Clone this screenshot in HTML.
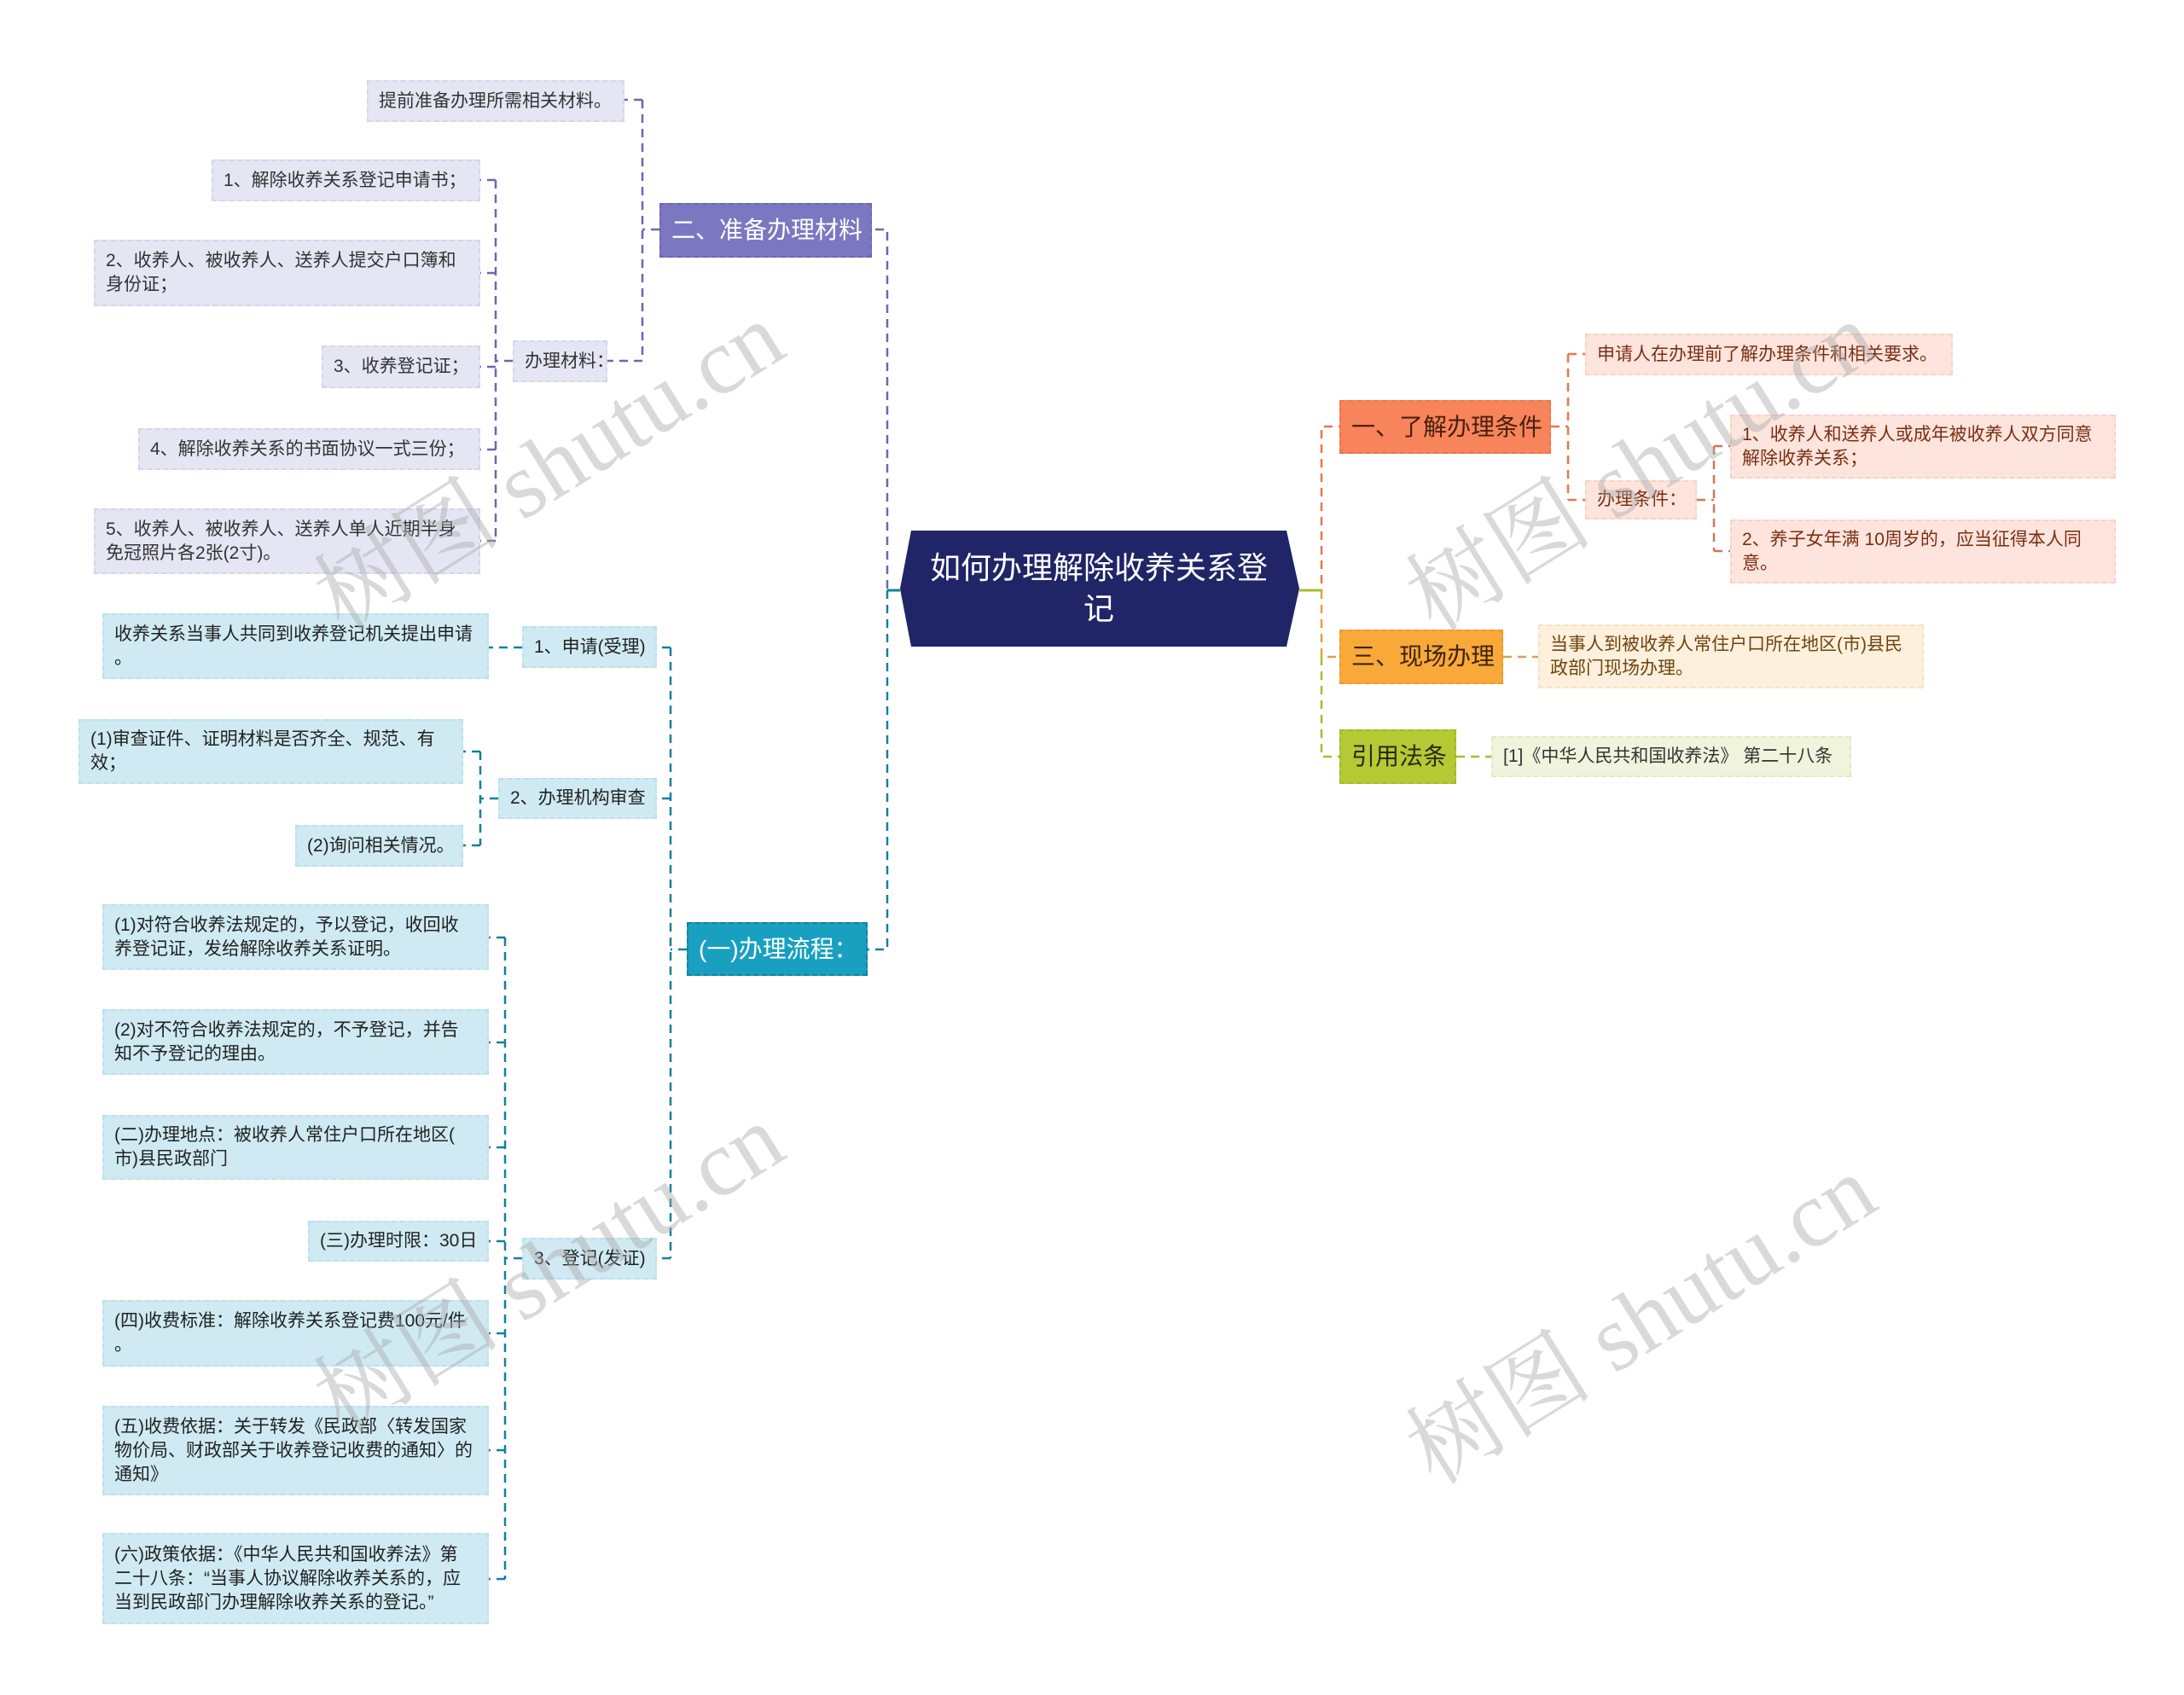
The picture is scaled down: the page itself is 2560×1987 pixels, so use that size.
<!DOCTYPE html>
<html><head><meta charset="utf-8">
<style>
html,body{margin:0;padding:0;background:#fff;}
body{width:2560px;height:1987px;position:relative;overflow:hidden;font-family:"Liberation Sans","Noto Sans CJK SC",sans-serif;}
.n{position:absolute;box-sizing:border-box;display:flex;align-items:center;font-size:21px;line-height:28px;white-space:nowrap;padding:0 12px;}
.p{background:#e6e5f3;border:2px dashed #d6d4ea;color:#333;}
.b{background:#cfeaf3;border:2px dashed #bde0ec;color:#222;}
.o{background:#fde4dc;border:2px dashed #f6d3c6;color:#7a2e12;}
.y{background:#fdf0dc;border:2px dashed #f6e2c2;color:#6e4410;}
.g{background:#f1f4dc;border:2px dashed #e3e8c2;color:#333;}
.wm{position:absolute;font-family:"Liberation Serif","Noto Serif CJK SC",serif;font-size:110px;color:rgba(170,170,170,0.45);transform:rotate(-32deg);white-space:nowrap;transform-origin:center;}
</style></head><body>
<svg width="2560" height="1987" style="position:absolute;left:0;top:0">
<g fill="none" stroke-width="2.5" stroke-dasharray="10,7">
<!-- left purple -->
<path d="M1055 692 H1040 V269 H1022" stroke="#6b67b0"/>
<path d="M773 269 H753 M753 117 V423 M753 117 H732 M753 423 H712" stroke="#6b67b0"/>
<path d="M601 423 H581 M581 211 V634 M581 211 H563 M581 320 H563 M581 430 H563 M581 527 H563 M581 634 H563" stroke="#6b67b0"/>
<!-- left teal -->
<path d="M1040 692 V1113 H1017" stroke="#15809e"/>
<path d="M805 1113 H786 M786 759 V1475 M786 759 H766 M786 936 H770 M786 1475 H770" stroke="#15809e"/>
<path d="M612 759 H573" stroke="#15809e"/>
<path d="M584 936 H563 M563 881 V991 M563 881 H543 M563 991 H543" stroke="#15809e"/>
<path d="M612 1475 H592 M592 1099 V1851 M592 1099 H573 M592 1222 H573 M592 1345 H573 M592 1455 H573 M592 1563 H573 M592 1700 H573 M592 1851 H573" stroke="#15809e"/>
<!-- right orange -->
<path d="M1523 692 H1549 V500 H1570" stroke="#e8764e"/>
<path d="M1818 500 H1838 M1838 415 V586 M1838 415 H1858 M1838 586 H1858" stroke="#e8764e"/>
<path d="M1989 586 H2009 M2009 523 V646 M2009 523 H2028 M2009 646 H2028" stroke="#c97a5a"/>
<!-- right yellow/green -->
<path d="M1549 692 V770 H1570" stroke="#e3a040"/>
<path d="M1762 770 H1803" stroke="#d9a058"/>
<path d="M1549 770 V887 H1570" stroke="#a8bc2c"/>
<path d="M1707 887 H1748" stroke="#a8bc2c"/>
</g>
<path d="M1068 622 L1508 622 L1523 690 L1508 758 L1068 758 L1055 690 Z" fill="#1f2566"/>
<path d="M1523 692 H1549" stroke="#a8bc2c" stroke-width="3"/>
<path d="M1040 692 H1055" stroke="#15809e" stroke-width="3"/>
</svg>

<div style="position:absolute;left:1068px;top:622px;width:440px;height:136px;display:flex;align-items:center;justify-content:center;text-align:center;color:#fff;font-size:36px;line-height:48px;">如何办理解除收养关系登<br>记</div>

<!-- right -->
<div class="n" style="left:1570px;top:469px;width:248px;height:63px;background:#f7845a;border:2px dashed #e8764e;color:#4a2010;font-size:28px;">一、了解办理条件</div>
<div class="n o" style="left:1858px;top:391px;width:431px;height:49px;">申请人在办理前了解办理条件和相关要求。</div>
<div class="n o" style="left:1858px;top:563px;width:131px;height:46px;">办理条件：</div>
<div class="n o" style="left:2028px;top:486px;width:452px;height:75px;">1、收养人和送养人或成年被收养人双方同意<br>解除收养关系；</div>
<div class="n o" style="left:2028px;top:609px;width:452px;height:75px;">2、养子女年满 10周岁的，应当征得本人同<br>意。</div>
<div class="n" style="left:1570px;top:738px;width:192px;height:64px;background:#f9a93a;border:2px dashed #eb9a2e;color:#3a2408;font-size:28px;">三、现场办理</div>
<div class="n y" style="left:1803px;top:732px;width:452px;height:75px;">当事人到被收养人常住户口所在地区(市)县民<br>政部门现场办理。</div>
<div class="n" style="left:1570px;top:855px;width:137px;height:64px;background:#b5c934;border:2px dashed #a4b82a;color:#2a2a10;font-size:28px;">引用法条</div>
<div class="n g" style="left:1748px;top:863px;width:422px;height:48px;">[1]《中华人民共和国收养法》 第二十八条</div>

<!-- left purple -->
<div class="n" style="left:773px;top:238px;width:249px;height:64px;background:#7b77c0;border:2px dashed #6b67b0;color:#fff;font-size:28px;">二、准备办理材料</div>
<div class="n p" style="left:430px;top:94px;width:302px;height:49px;">提前准备办理所需相关材料。</div>
<div class="n p" style="left:601px;top:399px;width:111px;height:49px;">办理材料：</div>
<div class="n p" style="left:248px;top:187px;width:315px;height:49px;">1、解除收养关系登记申请书；</div>
<div class="n p" style="left:110px;top:281px;width:453px;height:78px;">2、收养人、被收养人、送养人提交户口簿和<br>身份证；</div>
<div class="n p" style="left:377px;top:405px;width:186px;height:50px;">3、收养登记证；</div>
<div class="n p" style="left:162px;top:502px;width:401px;height:49px;">4、解除收养关系的书面协议一式三份；</div>
<div class="n p" style="left:110px;top:596px;width:453px;height:77px;">5、收养人、被收养人、送养人单人近期半身<br>免冠照片各2张(2寸)。</div>

<!-- left teal -->
<div class="n" style="left:805px;top:1081px;width:212px;height:63px;background:#19a0c0;border:2px dashed #15809e;color:#fff;font-size:28px;">(一)办理流程：</div>
<div class="n b" style="left:612px;top:734px;width:158px;height:49px;">1、申请(受理)</div>
<div class="n b" style="left:120px;top:719px;width:453px;height:77px;">收养关系当事人共同到收养登记机关提出申请<br>。</div>
<div class="n b" style="left:584px;top:912px;width:186px;height:48px;">2、办理机构审查</div>
<div class="n b" style="left:92px;top:843px;width:451px;height:76px;">(1)审查证件、证明材料是否齐全、规范、有<br>效；</div>
<div class="n b" style="left:346px;top:967px;width:197px;height:49px;">(2)询问相关情况。</div>
<div class="n b" style="left:612px;top:1451px;width:158px;height:49px;">3、登记(发证)</div>
<div class="n b" style="left:120px;top:1060px;width:453px;height:77px;">(1)对符合收养法规定的，予以登记，收回收<br>养登记证，发给解除收养关系证明。</div>
<div class="n b" style="left:120px;top:1183px;width:453px;height:77px;">(2)对不符合收养法规定的，不予登记，并告<br>知不予登记的理由。</div>
<div class="n b" style="left:120px;top:1307px;width:453px;height:76px;">(二)办理地点：被收养人常住户口所在地区(<br>市)县民政部门</div>
<div class="n b" style="left:361px;top:1431px;width:212px;height:48px;">(三)办理时限：30日</div>
<div class="n b" style="left:120px;top:1524px;width:453px;height:78px;">(四)收费标准：解除收养关系登记费100元/件<br>。</div>
<div class="n b" style="left:120px;top:1648px;width:453px;height:105px;">(五)收费依据：关于转发《民政部〈转发国家<br>物价局、财政部关于收养登记收费的通知〉的<br>通知》</div>
<div class="n b" style="left:120px;top:1797px;width:453px;height:107px;">(六)政策依据：《中华人民共和国收养法》第<br>二十八条：“当事人协议解除收养关系的，应<br>当到民政部门办理解除收养关系的登记。”</div>

<div class="wm" style="left:330px;top:460px;">树图 shutu.cn</div>
<div class="wm" style="left:330px;top:1400px;">树图 shutu.cn</div>
<div class="wm" style="left:1610px;top:460px;">树图 shutu.cn</div>
<div class="wm" style="left:1610px;top:1460px;">树图 shutu.cn</div>
</body></html>
